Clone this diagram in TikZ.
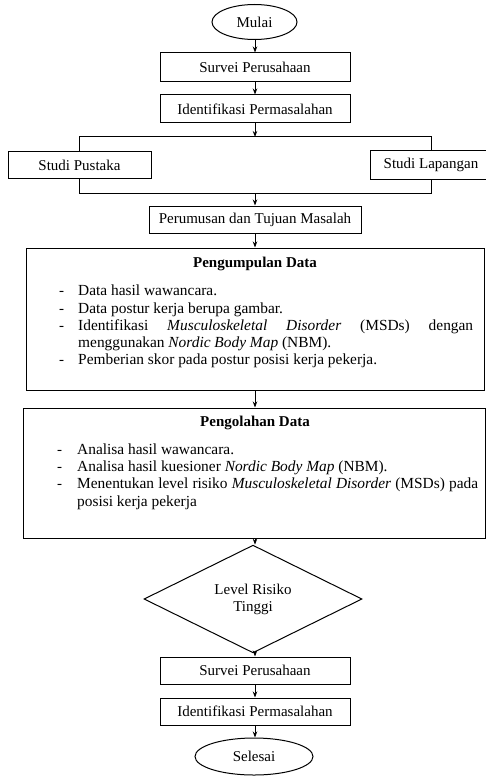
\documentclass[tikz,border=0pt]{standalone}
\usepackage{fontspec}
\setmainfont{Liberation Serif}
\usetikzlibrary{shapes.geometric,arrows.meta}
\begin{document}
\begin{tikzpicture}[x=1pt,y=-1pt,
  every node/.style={font=\fontsize{15}{17}\selectfont},
  procbox/.style={draw=black,line width=1pt,rectangle,inner sep=0pt,align=center},
  termbox/.style={draw=black,line width=1pt,ellipse,inner sep=0pt,align=center},
  decbox/.style={draw=black,line width=1pt,diamond,inner sep=0pt,align=center},
  conn/.style={line width=1pt,draw=black},
  arr/.style={conn,-{Stealth[length=6pt,width=4.5pt]}},
  itemtxt/.style={anchor=base west,inner sep=0pt,font=\fontsize{15.4}{17}\selectfont},
  dashtxt/.style={anchor=base west,inner sep=0pt}
]
\useasboundingbox (0,0) rectangle (486,778);
\fill[white] (0,0) rectangle (486,778);

\node[termbox,minimum width=85pt,minimum height=35pt] (mulai) at (254.5,22) {Mulai};
\node[procbox,minimum width=190pt,minimum height=29pt] (s1) at (255,67.5) {Survei Perusahaan};
\node[procbox,minimum width=190pt,minimum height=28pt] (i1) at (255,109) {Identifikasi Permasalahan};
\coordinate (split) at (255,137);
\node[procbox,minimum width=143pt,minimum height=26pt] (sp) at (79.5,165) {Studi Pustaka};
\node[procbox,minimum width=122pt,minimum height=28pt] (sl) at (431,165) {Studi Lapangan};
\coordinate (join) at (255,193);
\node[procbox,minimum width=212pt,minimum height=27pt] (pt) at (255,219.5) {Perumusan dan Tujuan Masalah};

\node[procbox,minimum width=458pt,minimum height=142pt] (pd) at (255,319) {};
\node[anchor=base,inner sep=0pt] (pdt) at (255,267) {\textbf{Pengumpulan Data}};
\node[dashtxt] (pd1d) at (59,295) {-};
\node[itemtxt] (pd1) at (78,295) {Data hasil wawancara.};
\node[dashtxt] (pd2d) at (59,313) {-};
\node[itemtxt] (pd2) at (78,313) {Data postur kerja berupa gambar.};
\node[dashtxt] (pd3d) at (59,330) {-};
\node[itemtxt] (pd3) at (78,330) {\makebox[395pt][s]{Identifikasi \textit{Musculoskeletal Disorder} (MSDs) dengan}};
\node[itemtxt] (pd3b) at (78,347) {menggunakan \textit{Nordic Body Map} (NBM).};
\node[dashtxt] (pd4d) at (59,364) {-};
\node[itemtxt] (pd4) at (78,364) {Pemberian skor pada postur posisi kerja pekerja.};

\node[procbox,minimum width=462pt,minimum height=130pt] (ol) at (254,473) {};
\node[anchor=base,inner sep=0pt] (olt) at (255,426) {\textbf{Pengolahan Data}};
\node[dashtxt] (ol1d) at (57,454) {-};
\node[itemtxt] (ol1) at (77,454) {Analisa hasil wawancara.};
\node[dashtxt] (ol2d) at (57,471) {-};
\node[itemtxt] (ol2) at (77,471) {Analisa hasil kuesioner \textit{Nordic Body Map} (NBM).};
\node[dashtxt] (ol3d) at (57,488) {-};
\node[itemtxt] (ol3) at (77,488) {\makebox[401pt][s]{Menentukan level risiko \textit{Musculoskeletal Disorder} (MSDs) pada}};
\node[itemtxt] (ol3b) at (77,506) {posisi kerja pekerja};

\node[decbox,minimum width=218pt,minimum height=88pt] (dm) at (253,599) {Level Risiko\\Tinggi};
\node[procbox,minimum width=190pt,minimum height=27pt] (s2) at (255,670.5) {Survei Perusahaan};
\node[procbox,minimum width=190pt,minimum height=27pt] (i2) at (255,711.5) {Identifikasi Permasalahan};
\node[termbox,minimum width=118pt,minimum height=37pt] (se) at (254,756.5) {Selesai};

\draw[arr] (mulai.south -| s1.north) -- (s1.north);
\draw[arr] (s1) -- (i1);
\draw[arr] (i1) -- (split);
\draw[conn] (sp.north) -- (sp.north |- split) -- (sl.north |- split) -- (sl.north);
\draw[conn] (sp.south) -- (sp.south |- join) -- (sl.south |- join) -- (sl.south);
\draw[arr] (join) -- (pt.north);
\draw[arr] (pt.south) -- (pt.south |- pd.north);
\draw[arr] (pd.south -| pt.south) -- (pt.south |- ol.north);
\draw[arr] (ol.south -| pt.south) -- (pt.south |- dm.north);
\draw[arr] (dm.south -| pt.south) -- (s2.north);
\draw[arr] (s2) -- (i2);
\draw[arr] (i2.south) -- (i2.south |- se.north);
\end{tikzpicture}
\end{document}
